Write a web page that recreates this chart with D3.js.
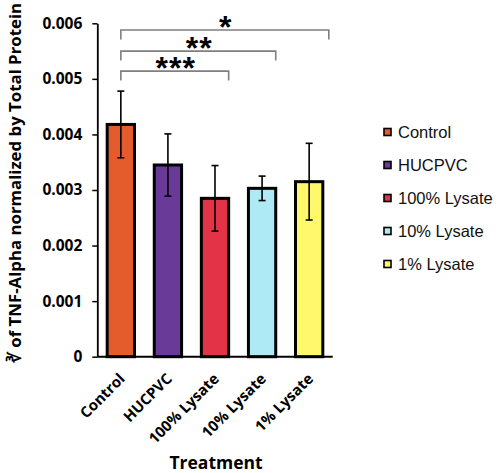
<!DOCTYPE html>
<html><head><meta charset="utf-8">
<script src="https://cdn.jsdelivr.net/npm/d3@7/dist/d3.min.js"></script>
<style>body{margin:0;background:#fff}svg{display:block}</style>
</head><body>
<script>
const categories = ["Control","HUCPVC","100% Lysate","10% Lysate","1% Lysate"];
const means  = [0.00418, 0.00345, 0.00285, 0.00303, 0.00315];
const errors = [0.00060, 0.00056, 0.00059, 0.00022, 0.00069];
const colors = ["#E45C2C","#693A97","#E33447","#AEE9F6","#FFF86C"];
const yTicks = [0,0.001,0.002,0.003,0.004,0.005,0.006];
const brackets = [
  {from:0, to:2, level:0.00514, label:"***"},
  {from:0, to:3, level:0.00550, label:"**"},
  {from:0, to:4, level:0.00588, label:"*"}
];

const W=500,H=473;
const svg=d3.select("body").append("svg").attr("width",W).attr("height",H);
const x=d3.scaleBand().domain(categories).range([97.3,332.7]).paddingInner(0.42).paddingOuter(0.21);
const y=d3.scaleLinear().domain([0,0.006]).range([356.7,23.3]);
const data=categories.map((c,i)=>({c,m:means[i],e:errors[i],col:colors[i]}));

// y axis
const ya=svg.append("g").attr("transform","translate(97.3,0)")
  .call(d3.axisLeft(y).tickValues(yTicks).tickFormat(d=>d===0?"0":d3.format(".3f")(d)).tickSize(5).tickSizeOuter(0).tickPadding(10));
ya.select(".domain").attr("stroke","#000").attr("stroke-width",1.8);
ya.selectAll(".tick line").attr("stroke","#000").attr("stroke-width",1.5);
ya.selectAll(".tick text").attr("font-family","Open Sans").attr("font-weight","bold").attr("font-size",15.5).attr("fill","#000");

// bars
svg.append("g").selectAll("rect").data(data).join("rect")
  .attr("x",d=>x(d.c)).attr("y",d=>y(d.m)).attr("width",x.bandwidth()).attr("height",d=>y(0)-y(d.m))
  .attr("fill",d=>d.col).attr("stroke","#000").attr("stroke-width",3);

// x axis
const xa=svg.append("g").attr("transform",`translate(0,${y(0)})`)
  .call(d3.axisBottom(x).tickSize(0).tickSizeOuter(0));
xa.select(".domain").attr("stroke","#000").attr("stroke-width",2).attr("d","M97.3,0H332.7");
xa.selectAll(".tick text").attr("font-family","Open Sans").attr("font-weight","bold").attr("font-size",15).attr("fill","#000")
  .attr("text-anchor","end").attr("dy",0).attr("y",0)
  .attr("transform","translate(5,23) rotate(-45)");

// error bars
const eb=svg.append("g").attr("stroke","#000").attr("stroke-width",1.6);
data.forEach(d=>{
  const cx=x(d.c)+x.bandwidth()/2;
  eb.append("line").attr("x1",cx).attr("x2",cx).attr("y1",y(d.m+d.e)).attr("y2",y(d.m-d.e));
  [d.m+d.e,d.m-d.e].forEach(v=>eb.append("line").attr("x1",cx-3.5).attr("x2",cx+3.5).attr("y1",y(v)).attr("y2",y(v)));
});

// significance brackets
const bg=svg.append("g");
brackets.forEach(b=>{
  const x1=x(categories[b.from])+x.bandwidth()/2;
  const x2=x(categories[b.to])+x.bandwidth()+(b.to===categories.length-1?6:0);
  const yy=y(b.level);
  bg.append("path").attr("d",`M${x1},${yy+9.5}V${yy}H${x2}V${yy+9.5}`)
    .attr("fill","none").attr("stroke","#7f7f7f").attr("stroke-width",1.6);
  bg.append("text").attr("x",(x1+x2)/2+1).attr("y",yy+8).attr("text-anchor","middle")
    .attr("font-family","Liberation Sans").attr("font-weight","bold").attr("font-size",32).attr("letter-spacing",1)
    .attr("fill","#000").text(b.label);
});

// y title
const yt=svg.append("text").attr("transform","translate(21,183) rotate(-90)").attr("text-anchor","middle")
  .attr("font-family","Open Sans").attr("font-weight","bold").attr("font-size",16).attr("fill","#000")
  .text("∛ of TNF-Alpha normalized by Total Protein");
const len=yt.node().getComputedTextLength();
yt.attr("font-size",16*360/len);

// x title
svg.append("text").attr("x",216).attr("y",468.5).attr("text-anchor","middle")
  .attr("font-family","Open Sans").attr("font-weight","bold").attr("font-size",17.5).attr("fill","#000").text("Treatment");

// legend
const lg=svg.append("g").selectAll("g").data(data).join("g")
  .attr("transform",(d,i)=>`translate(384,${132+i*33})`);
lg.append("rect").attr("x",0).attr("y",-3.5).attr("width",7).attr("height",7).attr("fill",d=>d.col).attr("stroke","#000").attr("stroke-width",1.6);
lg.append("text").attr("x",14).attr("y",6).attr("font-family","Liberation Sans").attr("font-size",16.5).attr("fill","#111").text(d=>d.c);
</script>
</body></html>
